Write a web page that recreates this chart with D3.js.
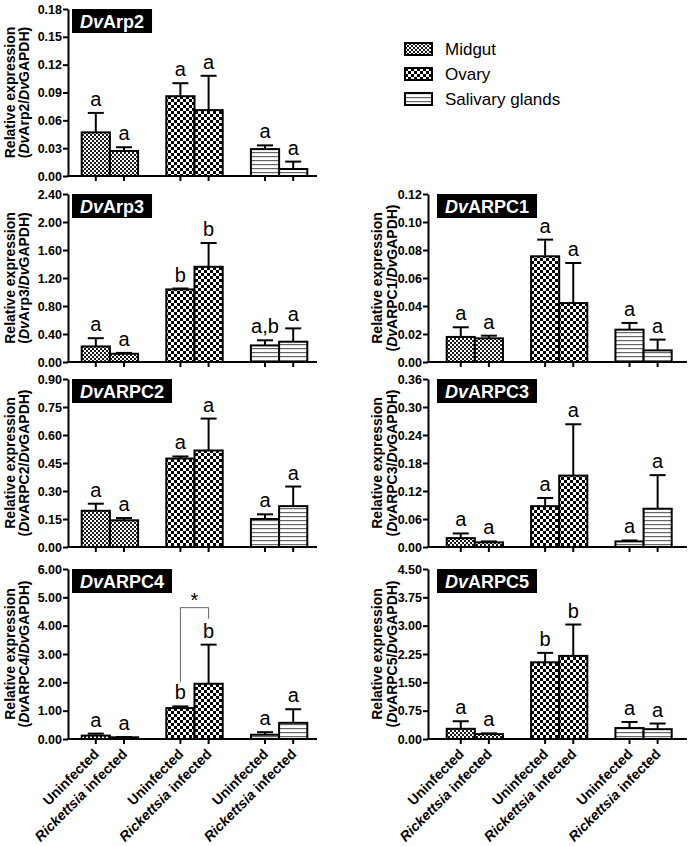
<!DOCTYPE html>
<html>
<head>
<meta charset="utf-8">
<script src="https://cdn.jsdelivr.net/npm/d3@7"></script>
<style>
  body { margin: 0; background: #fff; }
  svg { display: block; font-family: "Liberation Sans", Arial, sans-serif; }
</style>
</head>
<body>
<svg id="chart" width="694" height="846"></svg>
<script>
const tissues = ["Midgut", "Ovary", "Salivary glands"];
const conditions = ["Uninfected", "Rickettsia infected"];

// bar order: midgut U, midgut I, ovary U, ovary I, salivary U, salivary I
const arp2Mean = [0.047, 0.027, 0.086, 0.071, 0.029, 0.0075];
const arp2Err = [0.021, 0.004, 0.014, 0.037, 0.004, 0.008];
const arp2Sig = ["a", "a", "a", "a", "a", "a"];
const arp2Ticks = [0, 0.03, 0.06, 0.09, 0.12, 0.15, 0.18];

const arp3Mean = [0.222, 0.118, 1.037, 1.36, 0.237, 0.29];
const arp3Err = [0.118, 0.012, 0.013, 0.34, 0.073, 0.19];
const arp3Sig = ["a", "a", "b", "b", "a,b", "a"];
const arp3Ticks = [0, 0.4, 0.8, 1.2, 1.6, 2.0, 2.4];

const arpc1Mean = [0.0179, 0.0169, 0.0755, 0.0421, 0.0231, 0.0083];
const arpc1Err = [0.0069, 0.0019, 0.0119, 0.0286, 0.0048, 0.0077];
const arpc1Sig = ["a", "a", "a", "a", "a", "a"];
const arpc1Ticks = [0, 0.02, 0.04, 0.06, 0.08, 0.10, 0.12];

const arpc2Mean = [0.194, 0.143, 0.474, 0.517, 0.150, 0.219];
const arpc2Err = [0.038, 0.012, 0.011, 0.171, 0.025, 0.105];
const arpc2Sig = ["a", "a", "a", "a", "a", "a"];
const arpc2Ticks = [0, 0.15, 0.30, 0.45, 0.60, 0.75, 0.90];

const arpc3Mean = [0.019, 0.010, 0.0875, 0.153, 0.012, 0.082];
const arpc3Err = [0.010, 0.002, 0.0175, 0.110, 0.002, 0.072];
const arpc3Sig = ["a", "a", "a", "a", "a", "a"];
const arpc3Ticks = [0, 0.06, 0.12, 0.18, 0.24, 0.30, 0.36];

const arpc4Mean = [0.12, 0.06, 1.09, 1.95, 0.15, 0.57];
const arpc4Err = [0.07, 0.01, 0.06, 1.38, 0.09, 0.48];
const arpc4Sig = ["a", "a", "b", "b", "a", "a"];
const arpc4Ticks = [0, 1, 2, 3, 4, 5, 6];

const arpc5Mean = [0.27, 0.13, 2.03, 2.2, 0.29, 0.26];
const arpc5Err = [0.20, 0.02, 0.25, 0.83, 0.16, 0.15];
const arpc5Sig = ["a", "a", "b", "b", "a", "a"];
const arpc5Ticks = [0, 0.75, 1.5, 2.25, 3.0, 3.75, 4.5];

const svg = d3.select("#chart");
const defs = svg.append("defs");

function pattern(id, size, draw) {
    const p = defs.append("pattern")
        .attr("id", id)
        .attr("patternUnits", "userSpaceOnUse")
        .attr("width", size)
        .attr("height", size);
    p.append("rect").attr("width", size).attr("height", size).attr("fill", "#fff");
    draw(p);
}
// checkerboards: fine for midgut, coarse for ovary
function checker(p, s, col) {
    p.append("rect").attr("width", s).attr("height", s).attr("fill", col);
    p.append("rect").attr("x", s).attr("y", s).attr("width", s).attr("height", s).attr("fill", col);
}
pattern("midgut", 4, p => checker(p, 2, "#1a1a1a"));
pattern("ovary", 6, p => checker(p, 3, "#000"));
pattern("salivary", 4, p => {
    p.append("rect").attr("width", 4).attr("height", 1.2).attr("fill", "#666");
});
const fills = d3.scaleOrdinal().domain(tissues).range(["url(#midgut)", "url(#ovary)", "url(#salivary)"]);

// page layout
const cols = [
    {axis: 68, end: 317, first: 81.7, last: 307.3, title: [15, 29], box: 72},
    {axis: 428, end: 687, first: 446.7, last: 671.7, title: [382, 397], box: 437}
];
const rows = [
    {top: 9, zero: 176},
    {top: 194, zero: 362},
    {top: 379, zero: 547},
    {top: 569, zero: 739}
];

const panels = [
    {gene: "Arp2", mean: arp2Mean, err: arp2Err, sig: arp2Sig, ticks: arp2Ticks, row: 0, col: 0},
    {gene: "Arp3", mean: arp3Mean, err: arp3Err, sig: arp3Sig, ticks: arp3Ticks, row: 1, col: 0},
    {gene: "ARPC1", mean: arpc1Mean, err: arpc1Err, sig: arpc1Sig, ticks: arpc1Ticks, row: 1, col: 1},
    {gene: "ARPC2", mean: arpc2Mean, err: arpc2Err, sig: arpc2Sig, ticks: arpc2Ticks, row: 2, col: 0},
    {gene: "ARPC3", mean: arpc3Mean, err: arpc3Err, sig: arpc3Sig, ticks: arpc3Ticks, row: 2, col: 1},
    {gene: "ARPC4", mean: arpc4Mean, err: arpc4Err, sig: arpc4Sig, ticks: arpc4Ticks, row: 3, col: 0, bracket: "*"},
    {gene: "ARPC5", mean: arpc5Mean, err: arpc5Err, sig: arpc5Sig, ticks: arpc5Ticks, row: 3, col: 1}
];

panels.forEach(p => {
    const c = cols[p.col], r = rows[p.row];
    const g = svg.append("g");

    const x0 = d3.scaleBand().domain(tissues).range([c.first, c.last]).paddingInner(1 / 3).paddingOuter(0);
    const x1 = d3.scaleBand().domain(conditions).range([0, x0.bandwidth()]);
    const y = d3.scaleLinear().domain([0, p.ticks[p.ticks.length - 1]]).range([r.zero, r.top]);

    const bars = p.mean.map((v, i) => ({
        tissue: tissues[Math.floor(i / 2)],
        cond: conditions[i % 2],
        v: v, e: p.err[i], s: p.sig[i]
    }));
    const cx = d => x0(d.tissue) + x1(d.cond) + x1.bandwidth() / 2;

    g.selectAll("rect.bar").data(bars).join("rect")
        .attr("class", "bar")
        .attr("x", d => x0(d.tissue) + x1(d.cond))
        .attr("y", d => y(d.v))
        .attr("width", x1.bandwidth())
        .attr("height", d => r.zero - y(d.v))
        .attr("fill", d => fills(d.tissue))
        .attr("stroke", "#000")
        .attr("stroke-width", 2);

    g.selectAll("line.err").data(bars).join("line")
        .attr("class", "err")
        .attr("x1", cx).attr("x2", cx)
        .attr("y1", d => y(d.v)).attr("y2", d => y(d.v + d.e))
        .attr("stroke", "#000").attr("stroke-width", 2);
    g.selectAll("line.cap").data(bars).join("line")
        .attr("class", "cap")
        .attr("x1", d => cx(d) - 8).attr("x2", d => cx(d) + 8)
        .attr("y1", d => y(d.v + d.e)).attr("y2", d => y(d.v + d.e))
        .attr("stroke", "#000").attr("stroke-width", 2);

    g.selectAll("text.sig").data(bars).join("text")
        .attr("class", "sig")
        .attr("x", cx)
        .attr("y", d => y(d.v + d.e) - 7)
        .attr("text-anchor", "middle")
        .attr("font-size", 20)
        .text(d => d.s);

    // y axis
    const ya = g.append("g")
        .attr("transform", `translate(${c.axis},0)`)
        .call(d3.axisLeft(y).tickValues(p.ticks).tickFormat(d3.format(".2f"))
            .tickSize(5).tickSizeOuter(0).tickPadding(1));
    ya.selectAll("path, line").attr("stroke", "#000").attr("stroke-width", 2);
    ya.selectAll("text").attr("font-size", 12.5).attr("font-weight", "bold").attr("fill", "#000")
        .attr("font-family", "Liberation Sans, Arial, sans-serif");

    // x axis
    g.append("line")
        .attr("x1", c.axis - 1).attr("x2", c.end)
        .attr("y1", r.zero).attr("y2", r.zero)
        .attr("stroke", "#000").attr("stroke-width", 2);
    g.selectAll("line.xt").data(bars).join("line")
        .attr("class", "xt")
        .attr("x1", cx).attr("x2", cx)
        .attr("y1", r.zero).attr("y2", r.zero + 5)
        .attr("stroke", "#000").attr("stroke-width", 2);

    if (p.row === 3) {
        const lab = g.selectAll("text.xl").data(bars).join("text")
            .attr("class", "xl")
            .attr("text-anchor", "end")
            .attr("font-size", 14)
            .attr("font-weight", "bold")
            .attr("transform", d => `translate(${cx(d) + 4},${r.zero + 16}) rotate(-45)`);
        lab.each(function (d) {
            const t = d3.select(this);
            if (d.cond === "Uninfected") {
                t.text(d.cond);
            } else {
                t.append("tspan").attr("font-style", "italic").text("Rickettsia");
                t.append("tspan").text(" infected");
            }
        });
    }

    // y title
    const yMid = (r.top + r.zero) / 2;
    g.append("text")
        .attr("transform", `translate(${c.title[0]},${yMid}) rotate(-90)`)
        .attr("text-anchor", "middle")
        .attr("font-size", 14).attr("font-weight", "bold")
        .text("Relative expression");
    const t2 = g.append("text")
        .attr("transform", `translate(${c.title[1]},${yMid}) rotate(-90)`)
        .attr("text-anchor", "middle")
        .attr("font-size", 14).attr("font-weight", "bold");
    t2.append("tspan").text("(");
    t2.append("tspan").attr("font-style", "italic").text("Dv");
    t2.append("tspan").text(p.gene + "/");
    t2.append("tspan").attr("font-style", "italic").text("Dv");
    t2.append("tspan").text("GAPDH)");

    // gene name box
    const box = g.append("g");
    const bt = box.append("text")
        .attr("x", c.box + 8)
        .attr("y", r.top + 19)
        .attr("font-size", 18).attr("font-weight", "bold").attr("fill", "#fff");
    bt.append("tspan").attr("font-style", "italic").text("Dv");
    bt.append("tspan").text(p.gene);
    const bw = bt.node().getComputedTextLength();
    box.insert("rect", "text")
        .attr("x", c.box).attr("y", r.top)
        .attr("width", bw + 16).attr("height", 24)
        .attr("fill", "#000");

    if (p.bracket) {
        const a = bars[2], b = bars[3];
        const yb = y(b.v + b.e) - 37;
        g.append("path")
            .attr("d", `M${cx(a)},${y(a.v + a.e) - 24}V${yb}H${cx(b)}V${y(b.v + b.e) - 26}`)
            .attr("fill", "none").attr("stroke", "#666").attr("stroke-width", 1);
        g.append("text")
            .attr("x", (cx(a) + cx(b)) / 2)
            .attr("y", yb - 1)
            .attr("text-anchor", "middle")
            .attr("font-size", 20)
            .text(p.bracket);
    }
});

// legend
const leg = svg.append("g").attr("transform", "translate(405,43)");
const li = leg.selectAll("g").data(tissues).join("g")
    .attr("transform", (d, i) => `translate(0,${i * 25})`);
li.append("rect")
    .attr("width", 27).attr("height", 12)
    .attr("fill", d => fills(d))
    .attr("stroke", "#000").attr("stroke-width", 2);
li.append("text")
    .attr("x", 40).attr("y", 12)
    .attr("font-size", 17)
    .text(d => d);
</script>
</body>
</html>
